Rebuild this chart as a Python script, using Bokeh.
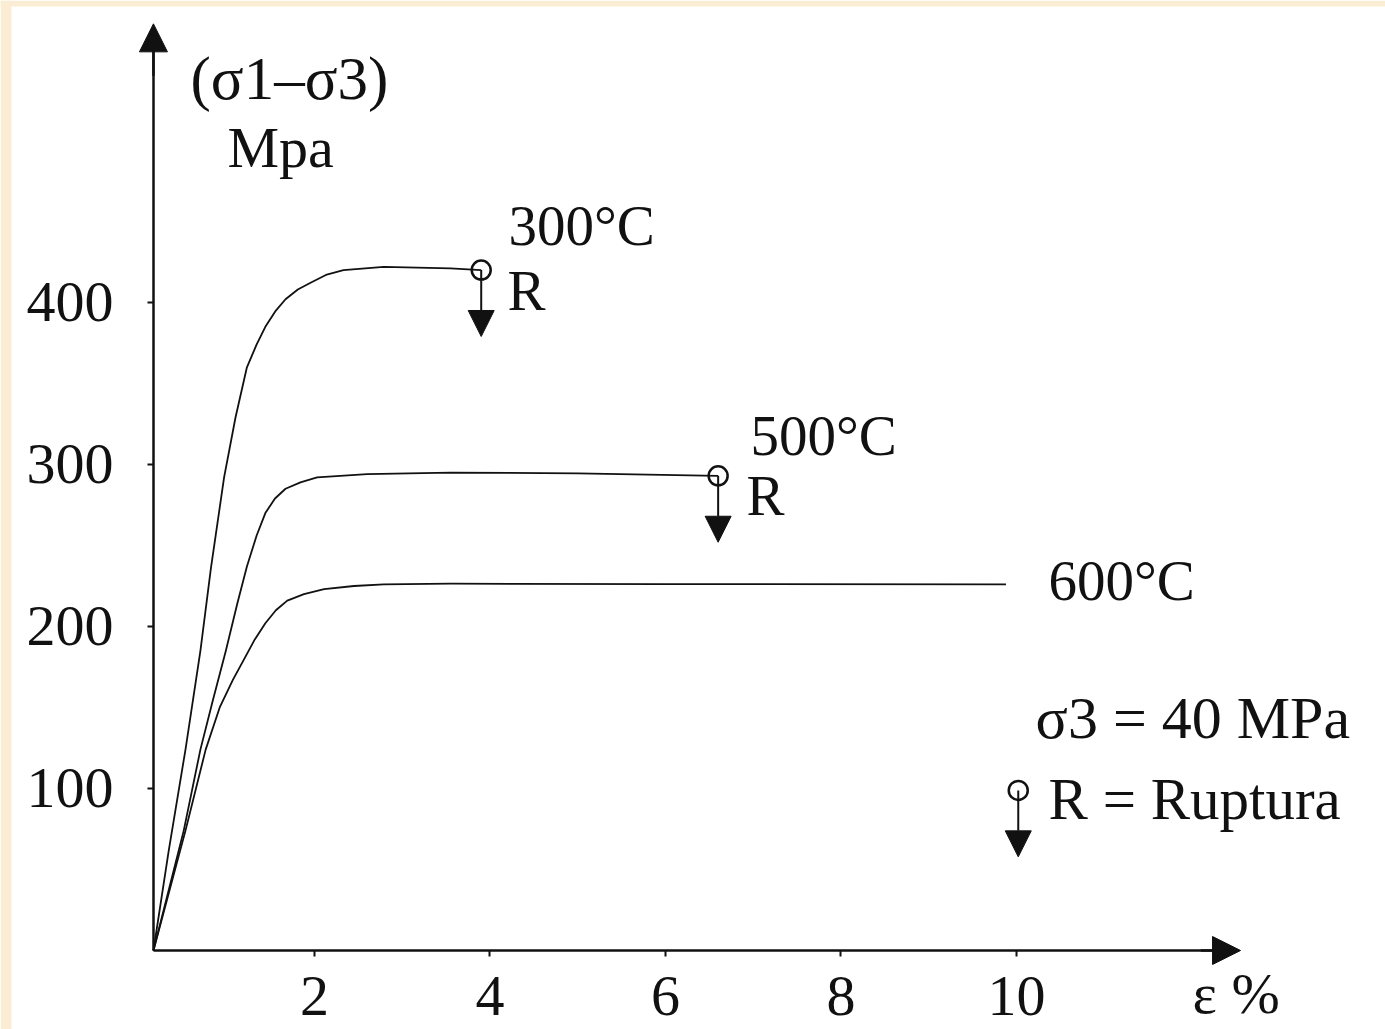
from bokeh.plotting import figure
from bokeh.models import (LinearAxis, FixedTicker, Range1d, Arrow, NormalHead,
                          Label, ColumnDataSource, BoxAnnotation)
from bokeh.embed import file_html
from bokeh.resources import INLINE

# ---- data (strain %, deviator stress MPa) ----
eps_300 = [0.165, 0.34, 0.53, 0.70, 0.82, 0.97, 1.10, 1.23, 1.34, 1.44, 1.56, 1.67, 1.81, 1.95, 2.13, 2.33, 2.79, 3.55, 3.90]
sig_300 = [0, 62, 124, 185, 236, 292, 329, 360, 374, 385, 395, 402, 408, 412, 417, 420, 422, 421, 420]

eps_500 = [0.165, 0.51, 0.70, 0.84, 0.99, 1.12, 1.23, 1.34, 1.44, 1.55, 1.67, 1.84, 2.03, 2.60, 3.55, 5.0, 6.60]
sig_500 = [0, 74, 124, 154, 185, 214, 237, 256, 270, 279, 285, 289, 292, 294, 295, 294.5, 293]

eps_600 = [0.165, 0.53, 0.76, 0.92, 1.07, 1.20, 1.32, 1.44, 1.56, 1.69, 1.88, 2.11, 2.45, 2.79, 3.55, 6.0, 9.88]
sig_600 = [0, 74, 124, 150, 167, 180, 192, 202, 210, 216, 220, 223, 225, 226, 226.4, 226.2, 226]

rupture_eps = [3.90, 6.60]
rupture_sig = [420, 293]

x_ticks = [2, 4, 6, 8, 10]
y_ticks = [100, 200, 300, 400]

INK = "#111111"
CREAM = "#FBEDD3"
FONT = "Liberation Serif"

p = figure(width=1385, height=1029, output_backend="svg", toolbar_location=None,
           x_axis_type=None, y_axis_type=None,
           x_range=Range1d(-1.578, 14.205), y_range=Range1d(-48.77, 586.4),
           min_border=0, outline_line_color=None,
           background_fill_color="white", border_fill_color="white")

# cream paper edge (top and left)
p.add_layout(BoxAnnotation(bottom=582.7, fill_color=CREAM, fill_alpha=1, line_alpha=0))
p.add_layout(BoxAnnotation(right=-1.453, fill_color=CREAM, fill_alpha=1, line_alpha=0))

X0 = 0.165  # location of the vertical axis (origin corner)

xaxis = LinearAxis(fixed_location=0, bounds=(X0, 12.3), ticker=FixedTicker(ticks=x_ticks))
yaxis = LinearAxis(fixed_location=X0, bounds=(0, 556), ticker=FixedTicker(ticks=y_ticks))
for ax in (xaxis, yaxis):
    ax.axis_line_width = 2.5
    ax.axis_line_color = INK
    ax.major_tick_in = 0
    ax.major_tick_out = 6
    ax.major_tick_line_width = 2
    ax.major_tick_line_color = INK
    ax.minor_tick_line_color = None
    ax.major_label_text_font = FONT
    ax.major_label_text_font_size = "58px"
    ax.major_label_text_color = INK
xaxis.major_label_standoff = 21
yaxis.major_label_standoff = 34
p.add_layout(xaxis, "below")
p.add_layout(yaxis, "left")

# axis arrow heads
p.add_layout(Arrow(end=NormalHead(size=28, fill_color=INK, line_color=INK),
                   x_start=X0, y_start=540, x_end=X0, y_end=572,
                   line_width=2.5, line_color=INK))
p.add_layout(Arrow(end=NormalHead(size=28, fill_color=INK, line_color=INK),
                   x_start=12.1, y_start=0, x_end=12.553, y_end=0,
                   line_width=2.5, line_color=INK))

# curves
for ex, sy in ((eps_300, sig_300), (eps_500, sig_500), (eps_600, sig_600)):
    p.line(ex, sy, line_width=1.8, line_color=INK, line_join="round")

# rupture markers
DROP = 41
src = ColumnDataSource(dict(x0=rupture_eps, y0=rupture_sig,
                            y1=[s - DROP for s in rupture_sig]))
p.add_layout(Arrow(end=NormalHead(size=26, fill_color=INK, line_color=INK),
                   x_start="x0", y_start="y0", x_end="x0", y_end="y1",
                   source=src, line_width=2, line_color=INK))
p.scatter("x0", "y0", source=src, marker="circle", size=19, fill_alpha=0,
          line_color=INK, line_width=2.5)

# legend key for rupture
LX, LY = 10.02, 98.8
p.add_layout(Arrow(end=NormalHead(size=26, fill_color=INK, line_color=INK),
                   x_start=LX, y_start=LY, x_end=LX, y_end=LY - DROP,
                   line_width=2, line_color=INK))
p.scatter([LX], [LY], marker="circle", size=19, fill_alpha=0, line_color=INK, line_width=2.5)


def lab(x, y, t, fs="57px"):
    p.add_layout(Label(x=x, y=y, text=t, text_font=FONT, text_font_size=fs,
                       text_color=INK, text_baseline="alphabetic", text_align="left"))


lab(0.587, 538.2, "(σ1–σ3)", "61px")
lab(1.009, 495.6, "Mpa", "58px")
lab(4.211, 447.5, "300°C")
lab(4.20, 407.4, "R")
lab(6.969, 317.9, "500°C")
lab(6.923, 280.8, "R")
lab(10.365, 228.3, "600°C")
lab(10.217, 143.8, "σ3 = 40 MPa", "60px")
lab(10.365, 93.8, "R = Ruptura", "59px")
lab(12.006, -26.5, "ε %", "58px")

open("out.html", "w").write(file_html(p, INLINE))
